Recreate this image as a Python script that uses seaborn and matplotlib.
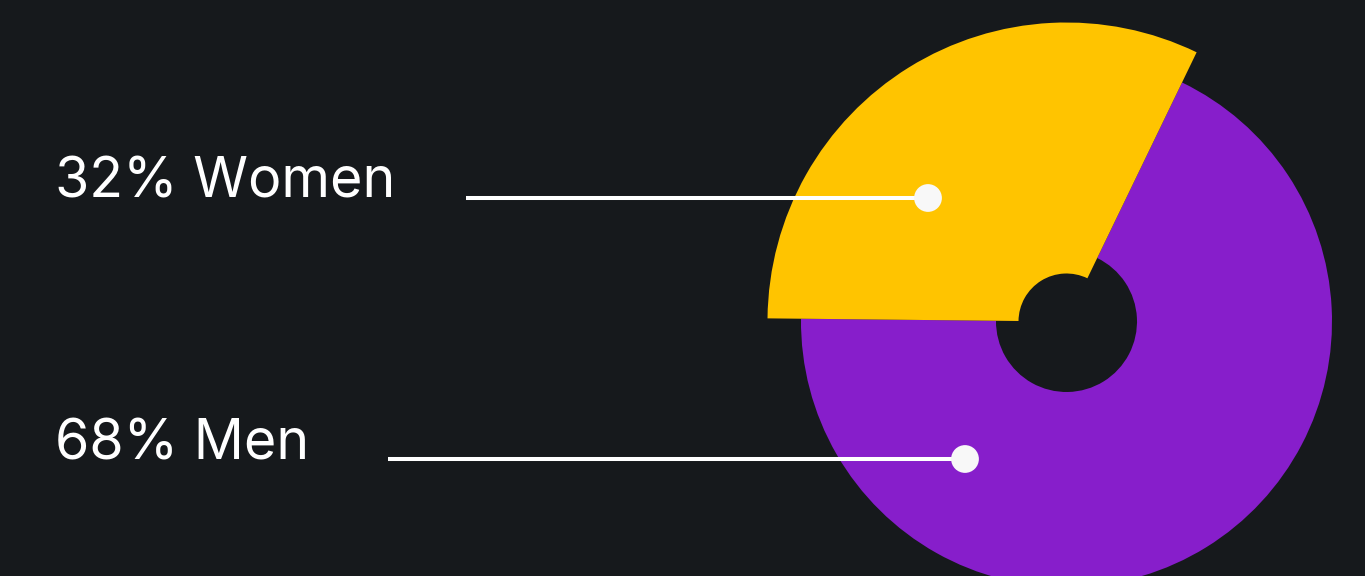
import matplotlib
matplotlib.use("Agg")
import matplotlib.pyplot as plt
import seaborn as sns
import pandas as pd

# ---- data ----
categories = ["Women", "Men"]
shares = [32, 68]
labels = ["32% Women", "68% Men"]
colors = ["#FFC400", "#871ECB"]

BG = "#16191C"
W, H = 1365, 576

sns.set_theme(style="dark", rc={"figure.facecolor": BG, "axes.facecolor": BG})
plt.rcParams["font.family"] = ["Inter", "DejaVu Sans"]

fig = plt.figure(figsize=(W / 100, H / 100), dpi=100)
ax = fig.add_axes([0, 0, 1, 1])
ax.set_facecolor(BG)

cx, cy = 1066.5, H - 321.5
wedges, _ = ax.pie(shares, colors=colors, startangle=64.2, counterclock=True,
                   center=(cx, cy), radius=265.5, frame=True,
                   wedgeprops=dict(width=195, linewidth=0))
# Women slice drawn larger (bigger outer radius, smaller inner radius)
wedges[0].set_radius(299)
wedges[0].set_width(251)
wedges[0].set_zorder(3)

# label lines with end dots
label_y = [H - 198, H - 459]
line_x0 = [466, 388]
dot_x = [928, 965]
text_y = [H - 198, H - 459]

for i in range(len(categories)):
    ax.plot([line_x0[i], dot_x[i]], [label_y[i], label_y[i]], color="white",
            lw=2.9, solid_capstyle="butt", zorder=5)
    ax.text(55, text_y[i], labels[i], color="white", fontsize=40,
            fontweight="normal", ha="left", va="baseline", zorder=6)

dots = pd.DataFrame({"x": dot_x, "y": label_y})
sns.scatterplot(data=dots, x="x", y="y", ax=ax, s=400, color="#F8F8F8",
                edgecolor="none", zorder=6, legend=False)
ax.set_xlim(0, W)
ax.set_ylim(0, H)
ax.set_aspect("equal")
ax.axis("off")

fig.savefig("out.png", dpi=100, facecolor=BG)
